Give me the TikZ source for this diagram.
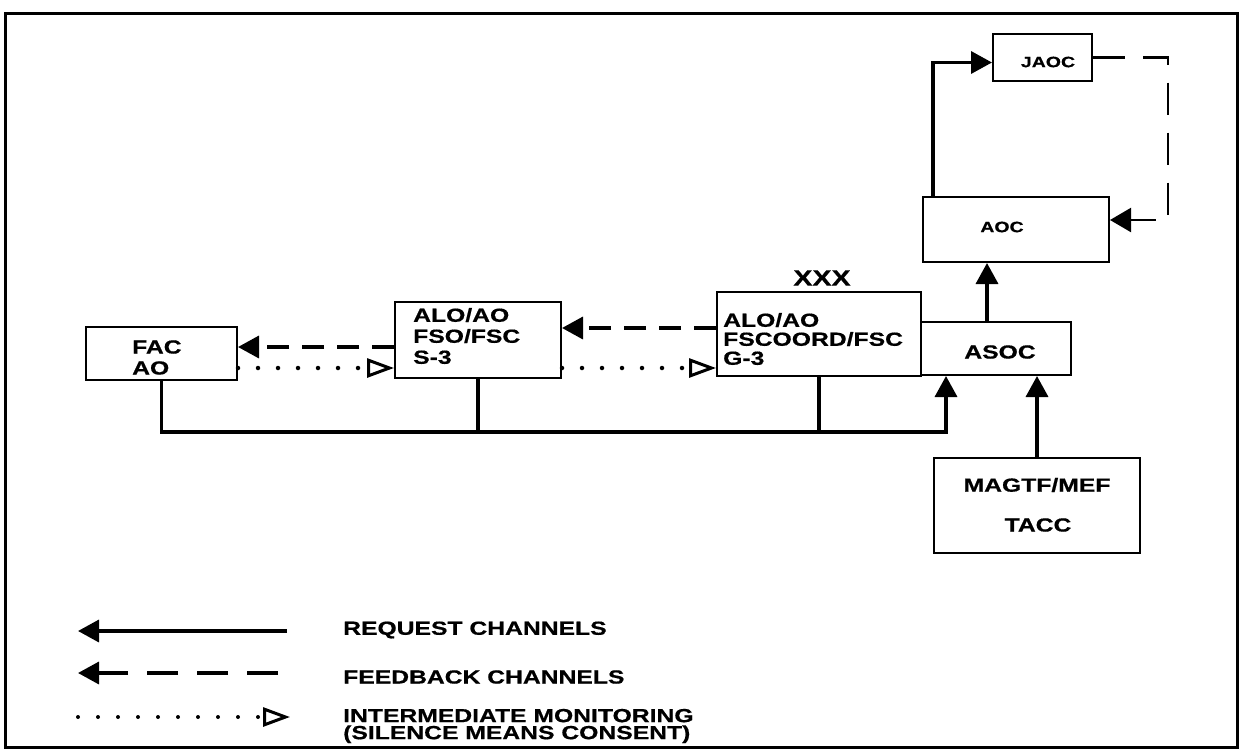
\documentclass[tikz,border=0pt]{standalone}
\usepackage{fontspec}
\setmainfont{Liberation Sans}[FakeStretch=1.3, BoldFeatures={FakeBold=0.6}]
\usetikzlibrary{arrows.meta}
\begin{document}
\begin{tikzpicture}[x=1pt,y=-1pt,
  box/.style={draw, line width=2pt, inner sep=0pt},
  lbl/.style={inner sep=0pt, align=left, font=\bfseries\fontsize{19}{20}\selectfont},
  req/.style={line width=3.5pt},
  reqtip/.style={-{Triangle[length=21pt,width=22pt]}},
  fb/.style={line width=3.5pt, dash pattern=on 22pt off 13pt},
  fbthin/.style={line width=2.2pt, dash pattern=on 32pt off 18pt},
  mon/.style={line width=4.5pt, line cap=round, dash pattern=on 0pt off 20pt,
    -{Triangle[open,length=27pt,width=19pt,line width=3pt]}}]
\useasboundingbox (0,0) rectangle (1240,753);
\draw[line width=3pt] (5,13) rectangle (1237,747);

% boxes
\node[box, minimum width=151pt, minimum height=53pt] (fac) at (161.5,353.5) {};
\node[box, minimum width=166pt, minimum height=76pt] (s3) at (478,340) {};
\node[box, minimum width=204pt, minimum height=84pt] (g3) at (819,334) {};
\node[box, minimum width=150pt, minimum height=53pt] (asoc) at (996,348.5) {};
\node[box, minimum width=186pt, minimum height=65pt] (aoc) at (1016,229.5) {};
\node[box, minimum width=99pt, minimum height=47pt] (jaoc) at (1042.5,57.5) {};
\node[box, minimum width=206pt, minimum height=95pt] (magtf) at (1037,505.5) {};

% texts
\node[lbl, anchor=west, font=\bfseries\fontsize{19}{21}\selectfont] (facT) at (132,357.5) {FAC\\AO};
\node[lbl, anchor=west, font=\bfseries\fontsize{19}{21}\selectfont] (s3T) at (413,336) {ALO/AO\\FSO/FSC\\S-3};
\node[lbl, anchor=west, font=\bfseries\fontsize{19}{19}\selectfont] (g3T) at (723,339) {ALO/AO\\FSCOORD/FSC\\G-3};
\node[lbl, font=\bfseries\fontsize{22}{22}\selectfont] (xxx) at (822,278) {XXX};
\node[lbl] (asocT) at (1000,352) {ASOC};
\node[lbl, font=\bfseries\fontsize{15}{15}\selectfont] (aocT) at (1002,227) {AOC};
\node[lbl, font=\bfseries\fontsize{15}{15}\selectfont] (jaocT) at (1048,62) {JAOC};
\node[lbl] (magT1) at (1037,485) {MAGTF/MEF};
\node[lbl] (magT2) at (1038,525) {TACC};

% feedback channels
\draw[fb, -{Triangle[length=21pt,width=22pt]}] ([yshift=6pt]g3.west) -- ([yshift=6pt]g3.west -| s3.east);
\draw[fb, -{Triangle[length=21pt,width=22pt]}] ([yshift=-7pt]s3.west) -- ([yshift=-7pt]s3.west -| fac.east);

% monitoring
\draw[mon] ([yshift=-14.5pt]fac.east) -- ([yshift=-14.5pt]fac.east -| s3.west);
\draw[mon] ([yshift=-28pt]s3.east) -- ([yshift=-28pt]s3.east -| g3.west);

% request bus
\coordinate (busend) at (946,432);
\draw[req, reqtip] (fac.south) |- (busend) -- (busend |- asoc.south);
\draw[req] (s3.south) -- (s3.south |- busend);
\draw[req] (g3.south) -- (g3.south |- busend);
\draw[req, reqtip] (magtf.north) -- (magtf.north |- asoc.south);
\draw[req, reqtip] ([xshift=-9pt]asoc.north) -- ([xshift=-9pt]asoc.north |- aoc.south);
\draw[req, reqtip] ([xshift=-83pt]aoc.north) |- ([yshift=-5pt]jaoc.west);

% JAOC feedback loop
\coordinate (jc) at (1168,0);
\draw[fbthin, -{Triangle[length=21pt,width=24pt]}] (jaoc.east) -- (jaoc.east -| jc) |- ([yshift=9.5pt]aoc.east);

% legend
\coordinate (l1a) at (287,631);
\coordinate (l1b) at (78,631);
\draw[req, reqtip] (l1a) -- (l1b);
\coordinate (l2a) at (278,673);
\coordinate (l2b) at (78,673);
\draw[line width=3.5pt, dash pattern=on 31pt off 19pt, reqtip] (l2a) -- (l2b);
\coordinate (l3a) at (78,717);
\coordinate (l3b) at (290,717);
\draw[mon, line width=4pt] (l3a) -- (l3b);
\node[lbl, anchor=west] (lg1) at (343,630) {REQUEST CHANNELS};
\node[lbl, anchor=west] (lg2) at (343,677) {FEEDBACK CHANNELS};
\node[lbl, anchor=west, font=\bfseries\fontsize{19}{17}\selectfont] (lg3) at (343,726) {INTERMEDIATE MONITORING\\(SILENCE MEANS CONSENT)};
\end{tikzpicture}
\end{document}
